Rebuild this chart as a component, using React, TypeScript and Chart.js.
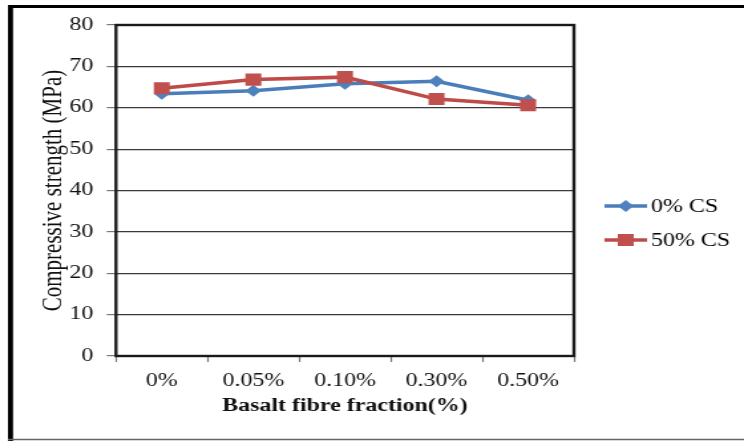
import React, { useEffect, useRef } from 'react';
import { Chart, registerables } from 'chart.js';

Chart.register(...registerables);

const categories = ['0%', '0.05%', '0.10%', '0.30%', '0.50%'];
const seriesLabels = ['0% CS', '50% CS'];
const cs0Values = [63.4, 64.1, 65.8, 66.4, 61.8];
const cs50Values = [64.7, 66.8, 67.4, 62.1, 60.6];
const yMin = 0;
const yMax = 80;
const yStep = 10;
const yTitle = 'Compressive strength (MPa)';
const xTitle = 'Basalt fibre fraction(%)';

const FONT = "'Liberation Serif', 'Times New Roman', serif";
const W = 560; // internal canvas width, CSS-stretched to 744
const H = 441;
const BLUE_LINE = '#4A7EBB';
const BLUE_MARK = '#4F81BD';
const RED_LINE = '#BE4B48';
const RED_MARK = '#C0504D';

const framePlugin = {
  id: 'frame',
  beforeDraw(chart: any) {
    const ctx = chart.ctx;
    ctx.save();
    ctx.fillStyle = '#ffffff';
    ctx.fillRect(0, 0, chart.width, chart.height);
    ctx.strokeStyle = '#000000';
    ctx.lineWidth = 3;
    ctx.beginPath();
    ctx.moveTo(6, 6.5);
    ctx.lineTo(chart.width, 6.5);
    ctx.stroke();
    ctx.lineWidth = 3.8;
    ctx.beginPath();
    ctx.moveTo(7.9, 5);
    ctx.lineTo(7.9, chart.height);
    ctx.stroke();
    ctx.strokeStyle = '#666666';
    ctx.lineWidth = 1.5;
    ctx.beginPath();
    ctx.moveTo(6, 439.5);
    ctx.lineTo(chart.width, 439.5);
    ctx.stroke();
    ctx.restore();
  },
  beforeDatasetsDraw(chart: any) {
    const { ctx, chartArea } = chart;
    ctx.save();
    ctx.strokeStyle = '#1a1a1a';
    ctx.lineWidth = 2.4;
    ctx.strokeRect(chartArea.left, chartArea.top, chartArea.right - chartArea.left, chartArea.bottom - chartArea.top);
    ctx.restore();
  },
  afterDraw(chart: any) {
    const ctx = chart.ctx;
    const rows = [206, 240];
    ctx.save();
    chart.data.datasets.forEach((ds: any, i: number) => {
      const y = rows[i];
      ctx.strokeStyle = ds.borderColor;
      ctx.lineWidth = 3.5;
      ctx.beginPath();
      ctx.moveTo(455, y);
      ctx.lineTo(487, y);
      ctx.stroke();
      const cx = 471;
      ctx.fillStyle = ds.pointBackgroundColor;
      ctx.beginPath();
      if (ds.pointStyle === 'rectRot') {
        const r = ds.pointRadius;
        ctx.moveTo(cx, y - r);
        ctx.lineTo(cx + r, y);
        ctx.lineTo(cx, y + r);
        ctx.lineTo(cx - r, y);
        ctx.closePath();
      } else {
        const s = Math.SQRT1_2 * ds.pointRadius;
        ctx.rect(cx - s, y - s, 2 * s, 2 * s);
      }
      ctx.fill();
      ctx.fillStyle = '#000000';
      ctx.font = `18px ${FONT}`;
      ctx.textBaseline = 'middle';
      ctx.textAlign = 'left';
      ctx.fillText(ds.label, 490, y + 1);
    });
    ctx.restore();
  },
};

export default function App() {
  const ref = useRef<HTMLCanvasElement | null>(null);
  useEffect(() => {
    if (!ref.current) return;
    const chart = new Chart(ref.current, {
      type: 'line',
      data: {
        labels: categories,
        datasets: [
          {
            label: seriesLabels[0],
            data: cs0Values,
            borderColor: BLUE_LINE,
            backgroundColor: BLUE_MARK,
            pointBackgroundColor: BLUE_MARK,
            pointBorderColor: BLUE_MARK,
            pointStyle: 'rectRot',
            pointRadius: 6,
            pointBorderWidth: 0,
            borderWidth: 3.5,
            tension: 0,
            order: 1,
          },
          {
            label: seriesLabels[1],
            data: cs50Values,
            borderColor: RED_LINE,
            backgroundColor: RED_MARK,
            pointBackgroundColor: RED_MARK,
            pointBorderColor: RED_MARK,
            pointStyle: 'rect',
            pointRadius: 8.5,
            pointBorderWidth: 0,
            borderWidth: 3.5,
            tension: 0,
            order: 0,
          },
        ],
      },
      options: {
        responsive: false,
        animation: false,
        devicePixelRatio: 1,
        layout: { padding: { left: 0, right: 128, top: 25, bottom: 0 } },
        plugins: {
          legend: { display: false },
          tooltip: { enabled: false },
        },
        scales: {
          x: {
            type: 'category',
            offset: true,
            grid: {
              offset: true,
              drawOnChartArea: false,
              drawTicks: true,
              tickLength: 6,
              tickColor: '#777777',
              tickWidth: 1.2,
            },
            border: { display: false },
            ticks: {
              color: '#111111',
              font: { family: FONT, size: 18 },
              padding: 8,
              maxRotation: 0,
              autoSkip: false,
            },
            title: {
              display: true,
              text: xTitle,
              color: '#111111',
              font: { family: FONT, size: 18, weight: 'bold' },
              padding: { top: 0, bottom: 24 },
            },
            afterFit(scale: any) {
              scale.height = 85;
            },
          },
          y: {
            min: yMin,
            max: yMax,
            grid: {
              color: '#3a3a3a',
              lineWidth: 1.2,
              drawTicks: true,
              tickLength: 7,
              tickColor: '#777777',
              tickWidth: 1.2,
            },
            border: { display: false },
            ticks: {
              stepSize: yStep,
              color: '#111111',
              font: { family: FONT, size: 18 },
              padding: 10,
            },
            title: {
              display: true,
              text: yTitle,
              color: '#111111',
              font: { family: FONT, size: 21 },
              padding: { top: 27.5, bottom: 0 },
            },
            afterFit(scale: any) {
              scale.width = 87.3;
            },
          },
        },
      },
      plugins: [framePlugin],
    });
    return () => chart.destroy();
  }, []);
  return (
    <div style={{ position: 'fixed', left: 0, top: 0, width: 744, height: 441, background: '#fff' }}>
      <canvas ref={ref} width={W} height={H} style={{ width: '744px', height: '441px', display: 'block' }} />
    </div>
  );
}
